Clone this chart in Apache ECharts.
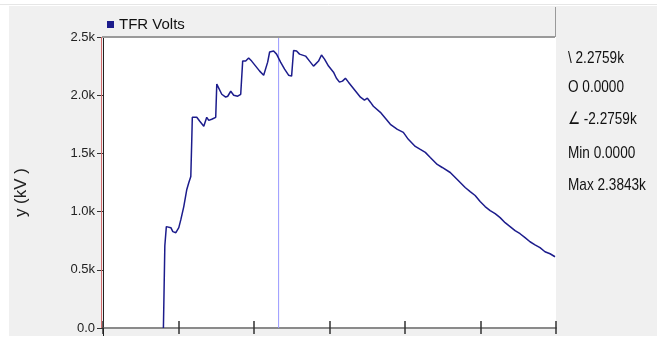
<!DOCTYPE html>
<html>
<head>
<meta charset="utf-8">
<script src="https://cdn.jsdelivr.net/npm/echarts@6/dist/echarts.min.js"></script>
<style>
html,body{margin:0;padding:0;background:#fff;}
#chart{width:657px;height:345px;}
</style>
</head>
<body>
<div id="chart"></div>
<script>
// ---- data ----
const seriesName = 'TFR Volts';
const yAxisTitle = 'y (kV )';
const xTime = [0.80,0.806,0.819,0.839,0.899,0.925,0.965,1.004,1.031,1.070,1.110,1.137,1.163,1.176,1.183,1.242,1.282,1.335,1.374,1.401,1.440,1.493,1.507,1.533,1.573,1.625,1.652,1.692,1.731,1.784,1.824,1.850,1.890,1.929,1.969,2.022,2.075,2.128,2.181,2.207,2.260,2.299,2.352,2.405,2.458,2.498,2.524,2.564,2.603,2.683,2.736,2.788,2.815,2.855,2.894,2.934,2.987,3.053,3.092,3.132,3.172,3.211,3.251,3.304,3.357,3.410,3.463,3.502,3.542,3.581,3.674,3.740,3.806,3.899,3.978,4.044,4.136,4.203,4.269,4.335,4.427,4.493,4.599,4.692,4.797,4.863,4.929,4.995,5.061,5.128,5.194,5.260,5.326,5.392,5.458,5.524,5.590,5.656,5.722,5.788,5.854,5.921,5.987];
const yVolts = [0,216,707,871,862,828,819,862,931,1043,1190,1250,1302,1621,1810,1810,1776,1733,1810,1784,1793,1810,2095,2086,2008,1983,1991,2034,2000,1991,2008,2293,2293,2319,2293,2250,2207,2172,2284,2371,2379,2353,2284,2224,2172,2164,2384,2379,2353,2336,2293,2250,2267,2293,2345,2310,2250,2198,2146,2112,2121,2146,2112,2069,2026,1983,1957,1974,1940,1905,1853,1802,1750,1707,1681,1621,1560,1534,1509,1465,1405,1379,1336,1276,1207,1172,1138,1086,1043,1009,983,948,905,871,836,810,776,741,715,690,655,638,612];
const yTicks = [0, 500, 1000, 1500, 2000, 2500];
const xTicks = [0, 1, 2, 3, 4, 5, 6];
const cursorX = 2.326;
const readouts = ['\\ 2.2759k', 'O 0.0000', '\u2220 -2.2759k', 'Min 0.0000', 'Max 2.3843k'];

const chart = echarts.init(document.getElementById('chart'), null, {renderer: 'canvas'});
const pts = xTime.map((x, i) => [x, yVolts[i]]);
const cursorPts = [[cursorX, yTicks[0]], [cursorX, yTicks[yTicks.length-1]]];
const FONT = '"Liberation Sans", Arial, sans-serif';

const readoutY = [58, 87, 119, 153, 185];
const graphics = [
  {type:'rect', z:-10, silent:true, shape:{x:9,y:6,width:648,height:330}, style:{fill:'#f0f0f0'}},
  {type:'line', z:-9, silent:true, shape:{x1:0,y1:4.5,x2:657,y2:4.5}, style:{stroke:'#e6e6e6',lineWidth:1}},
  {type:'rect', z:-5, silent:true, shape:{x:102,y:7,width:453,height:30}, style:{fill:'#f0f0f0'}},
  {type:'line', z:5, silent:true, shape:{x1:102,y1:37,x2:555,y2:37}, style:{stroke:'#9a9a9a',lineWidth:2}},
  {type:'line', z:5, silent:true, shape:{x1:555.5,y1:7,x2:555.5,y2:37}, style:{stroke:'#9a9a9a',lineWidth:1}},
  {type:'line', z:5, silent:true, shape:{x1:101.5,y1:37,x2:101.5,y2:328}, style:{stroke:'#d06a6a',lineWidth:1}},
  {type:'line', z:5, silent:true, shape:{x1:103.5,y1:328,x2:103.5,y2:336}, style:{stroke:'#222',lineWidth:1}},
  {type:'text', z:6, silent:true, left:13, top:168, rotation:Math.PI/2, style:{text:yAxisTitle, font:'17px ' + FONT, fill:'#222'}}
];
readouts.forEach((t, i) => {
  graphics.push({type:'text', z:6, silent:true, x:568, y:readoutY[i], scaleX:0.8, style:{text:t, font:'17px ' + FONT, fill:'#111', verticalAlign:'middle', align:'left'}});
});

chart.setOption({
  animation:false,
  backgroundColor:'#ffffff',
  graphic: graphics,
  legend:{
    show:true, left:102, top:12, icon:'rect', itemWidth:7, itemHeight:7, itemGap:4,
    textStyle:{fontSize:15, color:'#111', fontFamily:FONT},
    data:[seriesName]
  },
  grid:{left:103, right:101, top:37, bottom:17, show:true, backgroundColor:'#ffffff', borderWidth:0},
  xAxis:[
    {type:'value', min:xTicks[0], max:xTicks[xTicks.length-1], interval:1, position:'bottom',
      axisLine:{show:true, onZero:false, lineStyle:{color:'#8a8a8a', width:2}},
      axisTick:{show:true, inside:true, length:7, lineStyle:{color:'#333', width:1.5}},
      axisLabel:{show:false}, splitLine:{show:false}},
    {type:'value', min:xTicks[0], max:xTicks[xTicks.length-1], interval:1, position:'bottom',
      axisLine:{show:false, onZero:false},
      axisTick:{show:true, inside:false, length:6, lineStyle:{color:'#333', width:1.5}},
      axisLabel:{show:false}, splitLine:{show:false}}
  ],
  yAxis:{type:'value', min:yTicks[0], max:yTicks[yTicks.length-1], interval:500,
    axisLine:{show:true, lineStyle:{color:'#222', width:1}},
    axisTick:{show:true, length:6, lineStyle:{color:'#333', width:1}},
    axisLabel:{margin:8, fontSize:13, color:'#222', fontFamily:FONT,
      formatter:v => v === 0 ? '0.0' : (v/1000).toFixed(1) + 'k'},
    splitLine:{show:false}},
  series:[
    {name:'cursor', type:'line', data:cursorPts, xAxisIndex:0, showSymbol:false, symbol:'none',
      lineStyle:{color:'#9898ff', width:1}, itemStyle:{color:'#9898ff'}, emphasis:{disabled:true}, silent:true, z:1},
    {name:seriesName, type:'line', data:pts, xAxisIndex:0, showSymbol:false, symbol:'none',
      lineStyle:{color:'#1c1c8c', width:1.5}, itemStyle:{color:'#1c1c8c'},
      emphasis:{disabled:true}, z:2}
  ]
});
</script>
</body>
</html>
